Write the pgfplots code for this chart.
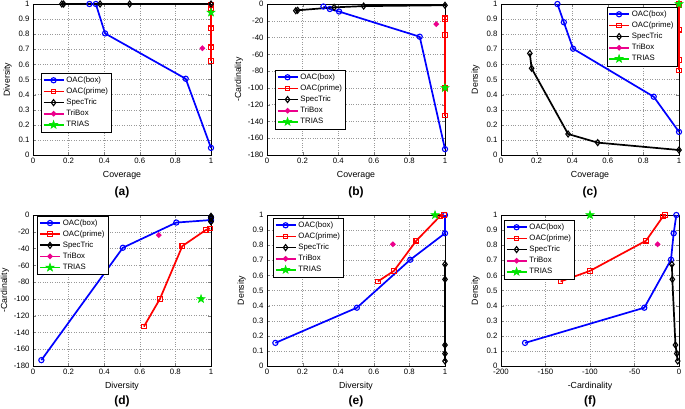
\documentclass[border=0pt]{standalone}
\usepackage{fontspec}
\setmainfont{Liberation Sans}
\usepackage{pgfplots}
\pgfplotsset{compat=1.18}
\pgfdeclareplotmark{pstar}{%
 \pgfpathmoveto{\pgfpointpolar{90}{\pgfplotmarksize}}%
 \pgfpathlineto{\pgfpointpolar{126}{0.4\pgfplotmarksize}}%
 \pgfpathlineto{\pgfpointpolar{162}{\pgfplotmarksize}}%
 \pgfpathlineto{\pgfpointpolar{198}{0.4\pgfplotmarksize}}%
 \pgfpathlineto{\pgfpointpolar{234}{\pgfplotmarksize}}%
 \pgfpathlineto{\pgfpointpolar{270}{0.4\pgfplotmarksize}}%
 \pgfpathlineto{\pgfpointpolar{306}{\pgfplotmarksize}}%
 \pgfpathlineto{\pgfpointpolar{342}{0.4\pgfplotmarksize}}%
 \pgfpathlineto{\pgfpointpolar{18}{\pgfplotmarksize}}%
 \pgfpathlineto{\pgfpointpolar{54}{0.4\pgfplotmarksize}}%
 \pgfpathclose\pgfusepathqfillstroke}
\pgfplotsset{
 mystyle/.style={
  scale only axis, width=178pt, height=151pt,
  grid=major, major grid style={dotted, gray!80},
  tick align=inside, major tick length=3pt,
  tick label style={font=\fontsize{7.8}{9}\selectfont},
  label style={font=\fontsize{8.8}{10}\selectfont},
  /pgf/number format/assume math mode=true,
  /pgf/number format/fixed,
  clip=false,
  legend cell align=left,
  legend style={font=\fontsize{7.8}{9}\selectfont, draw=black, inner sep=1.5pt, row sep=0pt},
  legend image code/.code={\draw[mark repeat=2,mark phase=2,##1,line width=1.7pt] plot coordinates {(0pt,0pt)(10pt,0pt)(20pt,0pt)};},
 },
 xcov/.style={xmin=0,xmax=1,xtick={0,0.2,0.4,0.6,0.8,1},xticklabels={0,0.2,0.4,0.6,0.8,1}},
 yunit/.style={ymin=0,ymax=1,ytick={0,0.1,0.2,0.3,0.4,0.5,0.6,0.7,0.8,0.9,1},yticklabels={0,0.1,0.2,0.3,0.4,0.5,0.6,0.7,0.8,0.9,1}},
 ycard/.style={ymin=-180,ymax=0,ytick={-180,-160,-140,-120,-100,-80,-60,-40,-20,0},ylabel style={yshift=-2pt}},
 sbox/.style={color=blue, line width=1.7pt, mark=o, mark size=2.6pt, mark options={solid, fill=white, line width=1.1pt}},
 sprime/.style={color=red, line width=1.7pt, mark=square, mark size=2.3pt, mark options={solid, fill=white, line width=1.1pt}},
 sspec/.style={color=black, line width=1.7pt, mark=diamond, mark size=3pt, mark options={solid, fill=white, line width=1.1pt}},
 stribox/.style={color=magenta, line width=1.7pt, mark=*, mark size=1.8pt},
 strias/.style={color=green!90!black, line width=1.7pt, mark=pstar, mark size=4.2pt, mark options={fill=green!90!black, line width=0.6pt}},
}
\begin{document}
\begin{tikzpicture}
\path[use as bounding box] (0pt,0pt) rectangle (685pt,408pt);
% (a)
\begin{axis}[mystyle, xcov, yunit, name=a, at={(33pt,253pt)}, anchor=south west,
  xlabel={Coverage}, ylabel={Diversity},
  legend style={at={(0.045,0.543)}, anchor=north west}]
\addplot[sbox] coordinates {(0.317,1)(0.353,1)(0.405,0.805)(0.858,0.505)(1,0.047)};
\addplot[sprime] coordinates {(1,0.623)(1,0.713)(1,0.839)(1,0.97)(1,0.995)};
\addplot[sspec] coordinates {(0.162,1)(0.172,1)(0.377,1)(0.543,1)(1,1)};
\addplot[stribox] coordinates {(0.951,0.707)};
\addplot[strias] coordinates {(1,0.944)};
\legend{OAC(box),OAC(prime),SpecTric,TriBox,TRIAS}
\end{axis}
\node[font=\bfseries\fontsize{12}{14}\selectfont] at ([yshift=-37pt]a.south) {(a)};
% (b)
\begin{axis}[mystyle, xcov, ycard, name=b, at={(267pt,253pt)}, anchor=south west,
  xlabel={Coverage}, ylabel={-Cardinality},
  legend style={at={(0.045,0.563)}, anchor=north west}]
\addplot[sbox] coordinates {(0.317,-3)(0.353,-6)(0.405,-9)(0.858,-39)(1,-173)};
\addplot[sprime] coordinates {(1,-133)(1,-100)(1,-37)(1,-18)(1,-16)};
\addplot[sspec] coordinates {(0.162,-8)(0.172,-7.5)(0.377,-4)(0.543,-2.5)(1,-1.5)};
\addplot[stribox] coordinates {(0.951,-24)};
\addplot[strias] coordinates {(1,-100)};
\legend{OAC(box),OAC(prime),SpecTric,TriBox,TRIAS}
\end{axis}
\node[font=\bfseries\fontsize{12}{14}\selectfont] at ([yshift=-37pt]b.south) {(b)};
% (c)
\begin{axis}[mystyle, xcov, yunit, name=c, at={(501pt,253pt)}, anchor=south west,
  xlabel={Coverage}, ylabel={Density},
  legend style={at={(0.99,0.98)}, anchor=north east}]
\addplot[sbox] coordinates {(0.317,1)(0.353,0.879)(0.405,0.704)(0.858,0.386)(1,0.153)};
\addplot[sprime] coordinates {(1,0.56)(1,0.63)(1,0.83)(1,0.99)(1,1)};
\addplot[sspec] coordinates {(0.162,0.673)(0.172,0.574)(0.377,0.139)(0.543,0.082)(1,0.033)};
\addplot[stribox] coordinates {(0.951,0.806)};
\addplot[strias] coordinates {(1,1)};
\legend{OAC(box),OAC(prime),SpecTric,TriBox,TRIAS}
\end{axis}
\node[font=\bfseries\fontsize{12}{14}\selectfont] at ([yshift=-37pt]c.south) {(c)};
% (d)
\begin{axis}[mystyle, xcov, ycard, name=d, at={(33pt,42pt)}, anchor=south west,
  xlabel={Diversity}, ylabel={-Cardinality},
  legend style={at={(0.025,0.995)}, anchor=north west}]
\addplot[sbox] coordinates {(1,-3)(1,-6)(0.805,-9)(0.505,-39)(0.047,-173)};
\addplot[sprime] coordinates {(0.623,-133)(0.713,-100)(0.839,-37)(0.97,-18)(0.995,-16)};
\addplot[sspec] coordinates {(1,-8)(1,-7.5)(1,-4)(1,-2.5)(1,-1.5)};
\addplot[stribox] coordinates {(0.707,-24)};
\addplot[strias] coordinates {(0.944,-100)};
\legend{OAC(box),OAC(prime),SpecTric,TriBox,TRIAS}
\end{axis}
\node[font=\bfseries\fontsize{12}{14}\selectfont] at ([yshift=-35pt]d.south) {(d)};
% (e)
\begin{axis}[mystyle, xcov, yunit, name=e, at={(267pt,42pt)}, anchor=south west,
  xlabel={Diversity}, ylabel={Density},
  legend style={at={(0.034,0.98)}, anchor=north west}]
\addplot[sbox] coordinates {(1,1)(1,0.879)(0.805,0.704)(0.505,0.386)(0.047,0.153)};
\addplot[sprime] coordinates {(0.623,0.56)(0.713,0.63)(0.839,0.83)(0.97,0.99)(0.995,1)};
\addplot[sspec] coordinates {(1,0.673)(1,0.574)(1,0.139)(1,0.082)(1,0.033)};
\addplot[stribox] coordinates {(0.707,0.806)};
\addplot[strias] coordinates {(0.944,1)};
\legend{OAC(box),OAC(prime),SpecTric,TriBox,TRIAS}
\end{axis}
\node[font=\bfseries\fontsize{12}{14}\selectfont] at ([yshift=-35pt]e.south) {(e)};
% (f)
\begin{axis}[mystyle, yunit, name=f, at={(501pt,42pt)}, anchor=south west,
  xmin=-200, xmax=0, xtick={-200,-150,-100,-50,0},
  xlabel={-Cardinality}, ylabel={Density},
  legend style={at={(0.017,0.967)}, anchor=north west}]
\addplot[sbox] coordinates {(-3,1)(-6,0.879)(-9,0.704)(-39,0.386)(-173,0.153)};
\addplot[sprime] coordinates {(-133,0.56)(-100,0.63)(-37,0.83)(-18,0.99)(-16,1)};
\addplot[sspec] coordinates {(-8,0.673)(-7.5,0.574)(-4,0.139)(-2.5,0.082)(-1.5,0.033)};
\addplot[stribox] coordinates {(-24,0.806)};
\addplot[strias] coordinates {(-100,1)};
\legend{OAC(box),OAC(prime),SpecTric,TriBox,TRIAS}
\end{axis}
\node[font=\bfseries\fontsize{12}{14}\selectfont] at ([yshift=-35pt]f.south) {(f)};
\end{tikzpicture}
\end{document}
